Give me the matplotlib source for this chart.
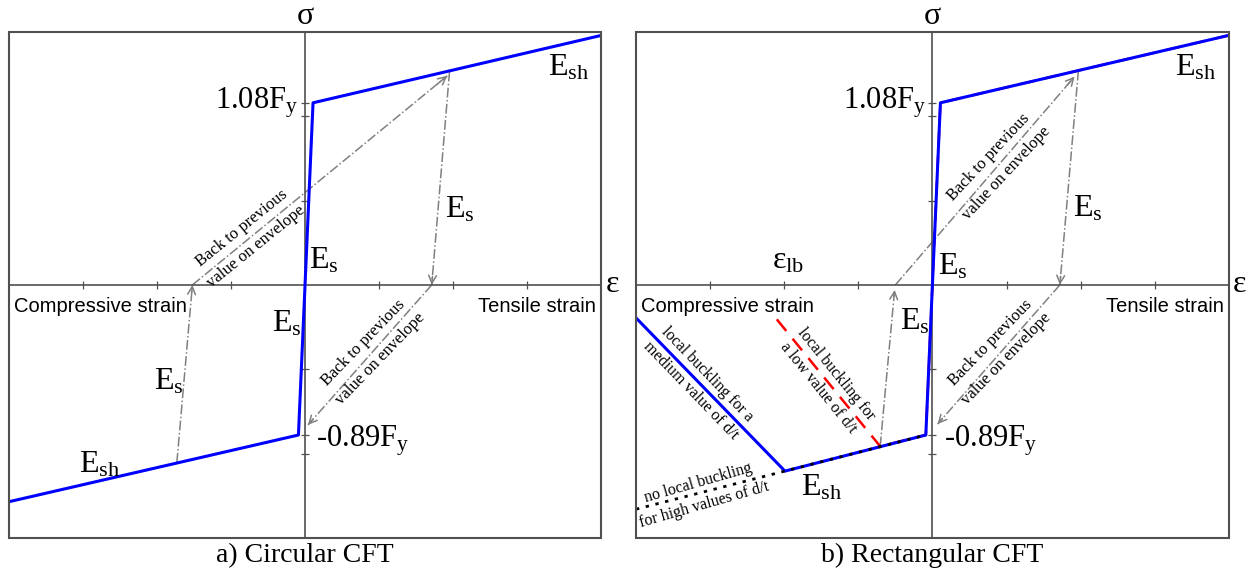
import numpy as np
import matplotlib.pyplot as plt
from matplotlib.patches import Rectangle

plt.rcParams['font.family'] = ['Liberation Serif', 'DejaVu Serif']
plt.rcParams['mathtext.fontset'] = 'custom'
plt.rcParams['mathtext.rm'] = 'Liberation Serif'
plt.rcParams['mathtext.it'] = 'Liberation Serif:italic'

# strain (arbitrary units), stress in units of Fy
circ_strain = [-4.0, -0.089, 0.0, 0.108, 4.0]
circ_stress = [-1.286, -0.89, 0.0, 1.08, 1.48]

# gray cyclic path, circular CFT (each piece ends with an arrow)
circ_cycle = [
    ([1.95, 1.71], [1.265, 0.0]),
    ([1.71, 0.04], [0.0, -0.83]),
    ([-1.73, -1.52], [-1.054, 0.0]),
    ([-1.52, 1.92], [0.0, 1.24]),
]

# rectangular CFT
med_strain = [-3.99, -1.99, -0.089, 0.0, 0.108, 4.0]
med_stress = [-0.20, -1.104, -0.89, 0.0, 1.08, 1.48]
low_strain = [-2.10, -0.705, -0.089, 0.0, 0.108, 4.0]
low_stress = [-0.204, -0.957, -0.89, 0.0, 1.08, 1.48]
high_strain = [-4.0, -0.089]
high_stress = [-1.33, -0.89]

rect_cycle = [
    ([1.97, 1.72], [1.27, 0.0]),
    ([1.72, 0.07], [0.0, -0.825]),
    ([-0.705, -0.51], [-0.957, -0.03]),
    ([-0.50, 1.92], [0.0, 1.236]),
]

x_ticks = [-3, -2, -1, 1, 2, 3]
y_ticks = [-1.0, -0.89, -0.5, 0.5, 1.0, 1.08]

GRAY = '#808080'
AX = '#505050'


def setup(ax, title):
    ax.set_xlim(-4, 4)
    ax.set_ylim(-1.5, 1.5)
    for s in ['top', 'right']:
        ax.spines[s].set_visible(False)
    for s in ['left', 'bottom']:
        ax.spines[s].set_position(('data', 0))
        ax.spines[s].set_color(AX)
        ax.spines[s].set_linewidth(1.2)
    ax.set_xticks(x_ticks)
    ax.set_yticks(y_ticks)
    ax.set_xticklabels([])
    ax.set_yticklabels([])
    ax.tick_params(direction='inout', length=6, width=0.9, color=AX)
    ax.add_patch(Rectangle((0, 0), 1, 1, transform=ax.transAxes, fill=False,
                           ec=AX, lw=1.5, clip_on=False, zorder=5))
    ax.text(0, 1.016, 'σ', transform=ax.get_xaxis_transform(), ha='center',
            va='baseline', fontsize=23)
    ax.text(1.007, 0.005, 'ε', transform=ax.get_yaxis_transform(), ha='left',
            va='center', fontsize=23)
    ax.text(0, -0.01, title, transform=ax.get_xaxis_transform(), ha='center',
            va='top', fontsize=20)
    ax.text(-3.93, -0.13, 'Compressive strain', family='Liberation Sans',
            fontsize=14.5, ha='left', va='center')
    ax.text(3.93, -0.13, 'Tensile strain', family='Liberation Sans',
            fontsize=14.5, ha='right', va='center')
    ax.text(-0.09, 1.045, '1.08F$_\\mathrm{y}$', fontsize=22, ha='right', va='baseline')
    ax.text(0.15, -0.96, '-0.89F$_\\mathrm{y}$', fontsize=22, ha='left', va='baseline')


def cycle(ax, paths):
    for xs, ys in paths:
        ax.plot(xs, ys, color=GRAY, lw=1.1, ls='-.', zorder=2)
        bx = xs[-2] + 0.96 * (xs[-1] - xs[-2])
        by = ys[-2] + 0.96 * (ys[-1] - ys[-2])
        ax.annotate('', xy=(xs[-1], ys[-1]), xytext=(bx, by),
                    arrowprops=dict(arrowstyle='->', color=GRAY, lw=1.1,
                                    shrinkA=0, shrinkB=0, mutation_scale=14),
                    zorder=2)


def label(ax, x, y, txt, size=23):
    ax.text(x, y, txt, fontsize=size, ha='left', va='baseline')


def note(ax, x, y, txt, rot, size=12):
    ax.text(x, y, txt, fontsize=size, ha='center', va='center', rotation=rot,
            rotation_mode='anchor', multialignment='center', linespacing=1.6)


fig = plt.figure(figsize=(12.54, 5.71), dpi=100)
ax1 = fig.add_axes([0.0069, 0.058, 0.4727, 0.886])
ax2 = fig.add_axes([0.5072, 0.058, 0.4727, 0.886])

# a) circular
setup(ax1, 'a) Circular CFT')
ax1.plot(circ_strain, circ_stress, color='#0000ff', lw=2.2, zorder=3)
cycle(ax1, circ_cycle)
label(ax1, 0.05, 0.10, 'E$_\\mathrm{s}$')
label(ax1, 1.89, 0.40, 'E$_\\mathrm{s}$')
label(ax1, 3.28, 1.24, 'E$_\\mathrm{sh}$')
label(ax1, -0.45, -0.277, 'E$_\\mathrm{s}$')
label(ax1, -2.04, -0.62, 'E$_\\mathrm{s}$')
label(ax1, -3.05, -1.11, 'E$_\\mathrm{sh}$')
note(ax1, -0.76, 0.28, 'Back to previous\nvalue on envelope', 39)
note(ax1, 0.90, -0.39, 'Back to previous\nvalue on envelope', 46)

# b) rectangular
setup(ax2, 'b) Rectangular CFT')
ax2.plot(low_strain, low_stress, color='#ff0000', lw=1.8, ls=(0, (6, 4)), zorder=2.5)
ax2.plot(med_strain, med_stress, color='#0000ff', lw=2.2, zorder=3)
ax2.plot(high_strain, high_stress, color='black', lw=2.0, ls=(0, (1.2, 2.4)), zorder=3.5)
cycle(ax2, rect_cycle)
label(ax2, 0.07, 0.06, 'E$_\\mathrm{s}$')
label(ax2, 1.90, 0.405, 'E$_\\mathrm{s}$')
label(ax2, 3.27, 1.24, 'E$_\\mathrm{sh}$')
label(ax2, -0.44, -0.267, 'E$_\\mathrm{s}$')
label(ax2, -1.77, -1.25, 'E$_\\mathrm{sh}$')
label(ax2, -2.17, 0.10, 'ε$_\\mathrm{lb}$')
note(ax2, 0.88, 0.71, 'Back to previous\nvalue on envelope', 47)
note(ax2, 0.89, -0.39, 'Back to previous\nvalue on envelope', 46)
note(ax2, -3.15, -0.58, 'local buckling for a\nmedium value of d/t', -46, 11.5)
note(ax2, -1.42, -0.57, 'local buckling for\na low value of d/t', -51, 11.5)
note(ax2, -3.12, -1.24, 'no local buckling\nfor high values of d/t', 16, 11.5)

fig.savefig('out.png', dpi=100)
